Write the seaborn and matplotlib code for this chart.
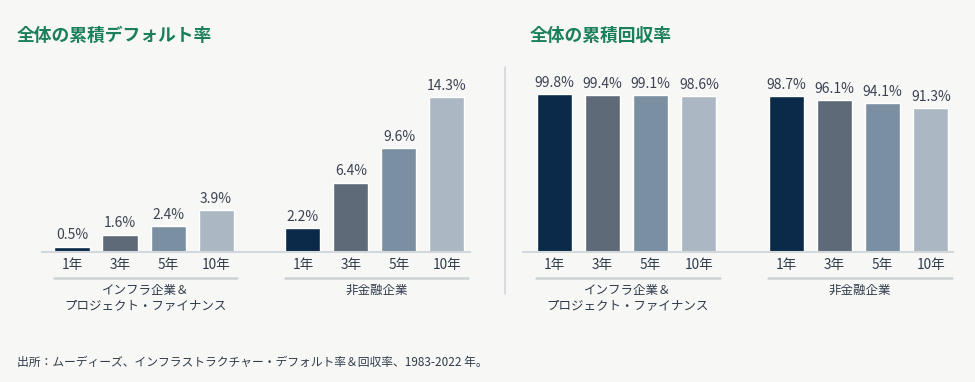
import pandas as pd
import matplotlib.pyplot as plt
import seaborn as sns

periods = ['1年', '3年', '5年', '10年']
groups = ['インフラ企業＆\nプロジェクト・ファイナンス', '非金融企業']
default_infra = [0.5, 1.6, 2.4, 3.9]
default_nonfin = [2.2, 6.4, 9.6, 14.3]
recovery_infra = [99.8, 99.4, 99.1, 98.6]
recovery_nonfin = [98.7, 96.1, 94.1, 91.3]

colors = ['#0b2948', '#5e6a77', '#7a8fa2', '#abb7c3']
bg = '#f7f7f6'
text_c = '#2f3b4a'
gap = 4.81  # offset of second group in bar slots

sns.set_theme(style='white')
plt.rcParams['font.family'] = ['Noto Sans CJK JP', 'DejaVu Sans']


def make_df(a, b):
    rows = []
    for g, vals in enumerate([a, b]):
        for i, v in enumerate(vals):
            rows.append({'group': groups[g], 'period': periods[i],
                         'pos': g * gap + i, 'value': v})
    return pd.DataFrame(rows)


fig = plt.figure(figsize=(9.75, 3.82), dpi=100)
fig.patch.set_facecolor(bg)

W, H = 975, 382
def axes_px(x0, x1, y_top, y_bot):
    return fig.add_axes([x0 / W, 1 - y_bot / H, (x1 - x0) / W, (y_bot - y_top) / H])

ax1 = axes_px(42, 470, 60, 252)
ax2 = axes_px(523, 953, 60, 252)

panels = [(ax1, make_df(default_infra, default_nonfin), 192 / 10.85, (-0.625, 8.29)),
          (ax2, make_df(recovery_infra, recovery_nonfin), 192 / 1.58, (-0.646, 8.27))]

for ax, df, ytop, xl in panels:
    ax.set_facecolor(bg)
    sns.barplot(data=df, x='pos', y='value', hue='period', hue_order=periods,
                palette=colors, native_scale=True, dodge=False, width=0.73,
                saturation=1, legend=False, ax=ax)
    for c in ax.containers:
        ax.bar_label(c, fmt='%.1f%%', padding=3, fontsize=10, color='#3b4252')
    ax.set_ylim(0, ytop)
    ax.set_xlim(*xl)
    ax.set_xticks(df['pos'], df['period'])
    ax.tick_params(axis='x', length=0, pad=4, labelsize=9.8, labelcolor=text_c)
    ax.set_yticks([])
    ax.set_xlabel('')
    ax.set_ylabel('')
    for s in ['top', 'left', 'right']:
        ax.spines[s].set_visible(False)
    ax.spines['bottom'].set_color('#d3d8dd')
    ax.spines['bottom'].set_linewidth(1.5)
    tr = ax.get_xaxis_transform()
    for g in range(2):
        x0 = g * gap - 0.37
        x1 = g * gap + 3 + 0.43
        ax.plot([x0, x1], [-0.135, -0.135], transform=tr, clip_on=False,
                color='#cdd2d7', lw=1.8)
        ax.text((x0 + x1) / 2, -0.165, groups[g], transform=tr, ha='center',
                va='top', fontsize=9, color=text_c, linespacing=1.2)

fig.text(17 / W, 1 - 36 / H, '全体の累積デフォルト率', fontsize=12.8, fontweight='bold',
         color='#1b7f5b', va='center', ha='left')
fig.text(530 / W, 1 - 36 / H, '全体の累積回収率', fontsize=12.8, fontweight='bold',
         color='#1b7f5b', va='center', ha='left')
fig.add_artist(plt.Line2D([505 / W, 505 / W], [1 - 67 / H, 1 - 294 / H],
                          color='#d5d8db', lw=1.2))
fig.text(17 / W, 1 - 362 / H,
         '出所：ムーディーズ、インフラストラクチャー・デフォルト率＆回収率、1983-2022 年。',
         fontsize=8.5, color=text_c, va='center', ha='left')

fig.savefig('out.png', dpi=100, facecolor=bg)
